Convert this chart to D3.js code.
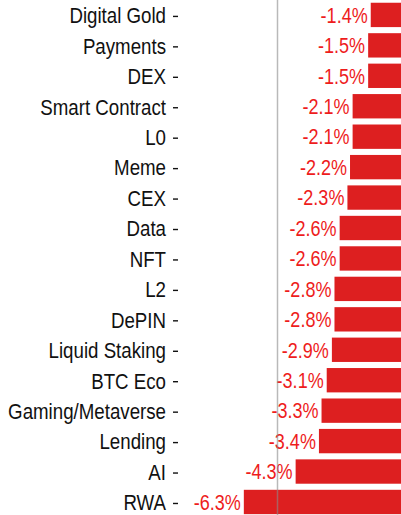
<!DOCTYPE html>
<html>
<head>
<meta charset="utf-8">
<script src="https://cdn.jsdelivr.net/npm/d3@7"></script>
<style>
html,body{margin:0;padding:0;background:#fff;overflow:hidden;}
svg{display:block;}
</style>
</head>
<body>
<svg id="chart" width="401" height="515"></svg>
<script>
const categories = ["Digital Gold","Payments","DEX","Smart Contract","L0","Meme","CEX","Data","NFT","L2","DePIN","Liquid Staking","BTC Eco","Gaming/Metaverse","Lending","AI","RWA"];
const values = [-1.4,-1.5,-1.5,-2.1,-2.1,-2.2,-2.3,-2.6,-2.6,-2.8,-2.8,-2.9,-3.1,-3.3,-3.4,-4.3,-6.3];
const refLine = [-5];

const W = 401, H = 515;
const svg = d3.select("#chart");
const FONT = "'Liberation Sans', Arial, sans-serif";
const SXV = 0.82;
const SXC = 0.85;
const FS = 22;

const x = d3.scaleLinear().domain([-5, 0]).range([277.5, 407]);
const y = d3.scaleBand().domain(categories).range([-0.3, 517.2]).paddingInner(0.2).paddingOuter(0.1);

const data = categories.map((c, i) => ({c, v: values[i]}));

// bars
svg.append("g").selectAll("rect").data(data).join("rect")
  .attr("x", d => x(d.v))
  .attr("y", d => y(d.c))
  .attr("width", d => x(0) - x(d.v))
  .attr("height", y.bandwidth())
  .attr("fill", "#dd1f20");

// value labels
svg.append("g").selectAll("g").data(data).join("g")
  .attr("transform", d => `translate(${x(d.v) - 3},${y(d.c) + y.bandwidth()/2 + 7.8}) scale(${SXV},1)`)
  .append("text")
  .attr("text-anchor", "end")
  .attr("font-family", FONT)
  .attr("font-size", FS)
  .attr("fill", "#ee1c1c")
  .text(d => d.v.toFixed(1) + "%");

// category axis labels
const ax = svg.append("g");
ax.selectAll("g").data(data).join("g")
  .attr("transform", d => `translate(166,${y(d.c) + y.bandwidth()/2 + 8.3}) scale(${SXC},1)`)
  .append("text")
  .attr("text-anchor", "end")
  .attr("font-family", FONT)
  .attr("font-size", FS)
  .attr("fill", "#111")
  .text(d => d.c);
ax.selectAll("line").data(data).join("line")
  .attr("x1", 173).attr("x2", 178)
  .attr("y1", d => y(d.c) + y.bandwidth()/2 + 1.5)
  .attr("y2", d => y(d.c) + y.bandwidth()/2 + 1.5)
  .attr("stroke", "#111").attr("stroke-width", 1.4);

// reference line
svg.append("g").selectAll("line").data(refLine).join("line")
  .attr("x1", d => x(d)).attr("x2", d => x(d))
  .attr("y1", 0).attr("y2", H)
  .attr("stroke", "#8a8a8a").attr("stroke-opacity", 0.6).attr("stroke-width", 1.5);
</script>
</body>
</html>
